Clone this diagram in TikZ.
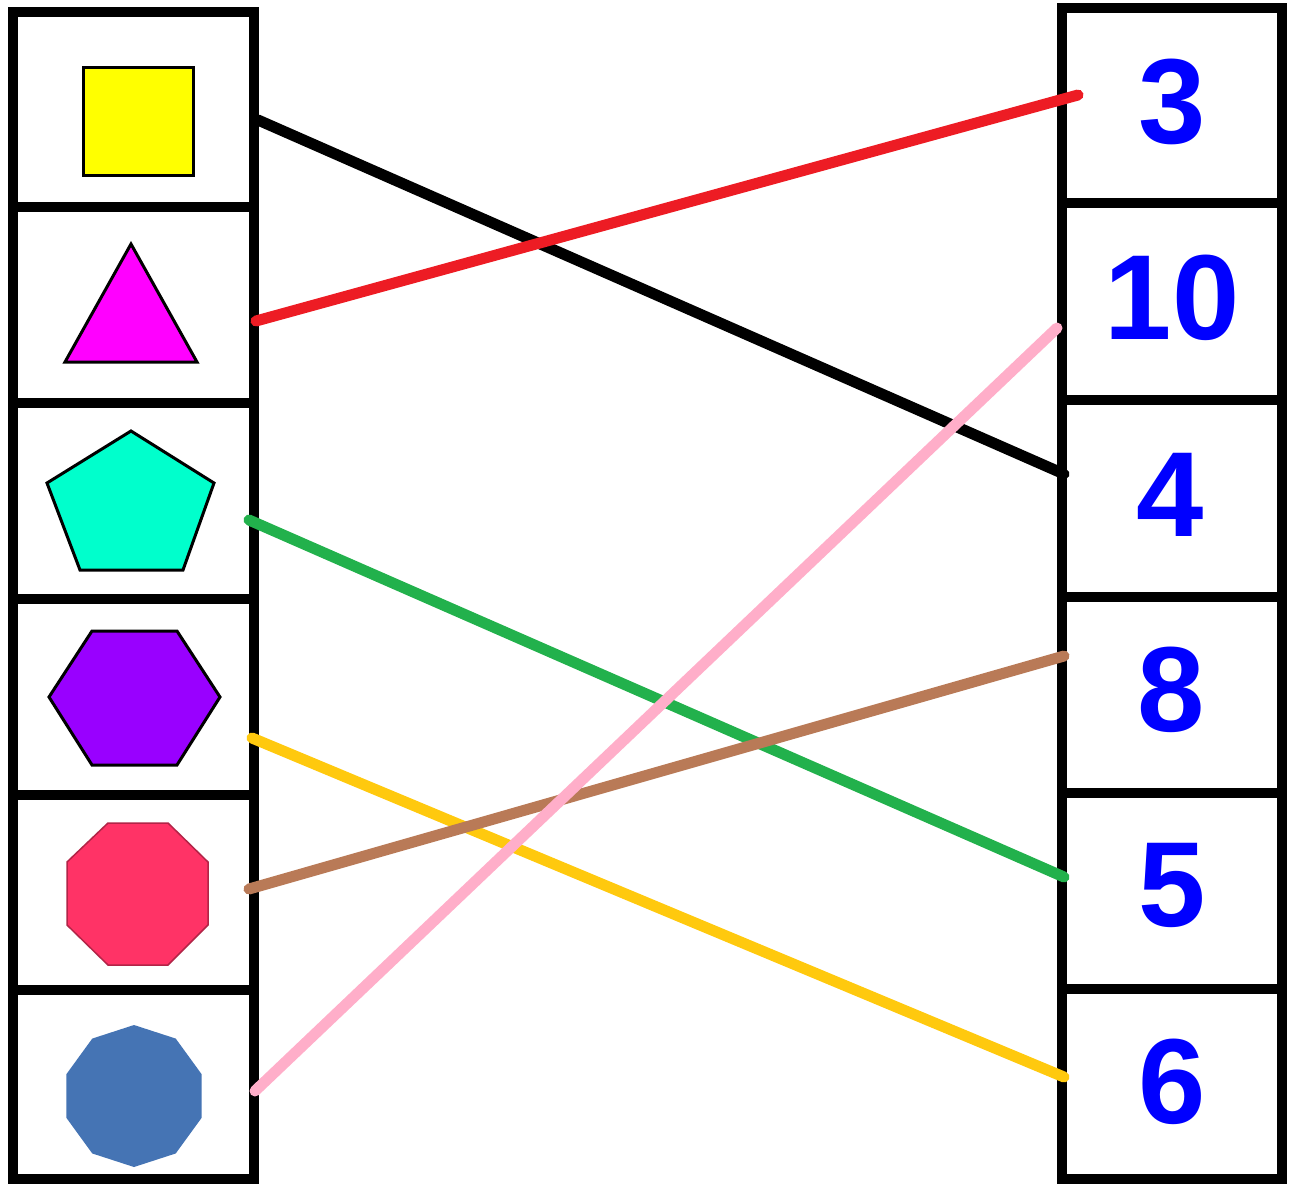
\documentclass[tikz,border=0pt]{standalone}
\usepackage{fontspec}
\setmainfont{Liberation Sans}
\definecolor{numblue}{HTML}{0000FF}
\definecolor{sqyellow}{HTML}{FFFF00}
\definecolor{trimag}{HTML}{FF00FF}
\definecolor{pentcyan}{HTML}{00FFCC}
\definecolor{hexpurple}{HTML}{9900FF}
\definecolor{octred}{HTML}{FF3366}
\definecolor{decblue}{HTML}{4574B4}
\definecolor{lnred}{HTML}{ED1C24}
\definecolor{lngreen}{HTML}{22B14C}
\definecolor{lnpink}{HTML}{FFAEC9}
\definecolor{lnbrown}{HTML}{B97A57}
\definecolor{lnyellow}{HTML}{FFC90E}
\begin{document}
\begin{tikzpicture}[x=1pt,y=-1pt,
  cell/.style={draw=black,line width=10pt,fill=white,inner sep=0pt,outer sep=0pt},
  lcell/.style={cell,minimum width=241pt},
  rcell/.style={cell,minimum width=220pt},
  num/.style={text=numblue,font=\fontsize{121}{121}\selectfont\bfseries,inner sep=0pt},
  shp/.style={draw=black,line width=3pt,line join=miter},
  link/.style={line width=11pt,line cap=round}]
\useasboundingbox (0,0) rectangle (1289,1183);
% left column boxes
\node[lcell,minimum height=195pt] (L1) at (133.5,109.5) {};
\node[lcell,minimum height=196pt] (L2) at (133.5,305) {};
\node[lcell,minimum height=196pt] (L3) at (133.5,501) {};
\node[lcell,minimum height=196pt] (L4) at (133.5,697) {};
\node[lcell,minimum height=195pt] (L5) at (133.5,892.5) {};
\node[lcell,minimum height=189pt] (L6) at (133.5,1084.5) {};
% right column boxes
\node[rcell,minimum height=195.5pt] (R1) at (1172,105.25) {};
\node[rcell,minimum height=197pt] (R2) at (1172,301.5) {};
\node[rcell,minimum height=197pt] (R3) at (1172,498.5) {};
\node[rcell,minimum height=196pt] (R4) at (1172,695) {};
\node[rcell,minimum height=196pt] (R5) at (1172,891) {};
\node[rcell,minimum height=190pt] (R6) at (1172,1084) {};
% numbers
\node[num] (N1) at (1172,102) {3};
\node[num] (N2) at (1172,298) {10};
\node[num] (N3) at (1170,495) {4};
\node[num] (N4) at (1171,690) {8};
\node[num] (N5) at (1172,885) {5};
\node[num] (N6) at (1172,1082) {6};
% shapes
\draw[shp,fill=sqyellow] (83,67) rectangle (193,175);
\draw[shp,fill=trimag] (131,244) -- (197,362) -- (65,362) -- cycle;
\draw[shp,fill=pentcyan] (131,431) -- (214,483) -- (183,570) -- (80,570) -- (47,483) -- cycle;
\draw[shp,fill=hexpurple] (92,631) -- (177,631) -- (220,697) -- (177,765) -- (92,765) -- (49,697) -- cycle;
\draw[draw=octred!70!black,line width=1.5pt,fill=octred] (108,823) -- (168,823) -- (208,862) -- (208,925) -- (168,965) -- (108,965) -- (67,925) -- (67,862) -- cycle;
\fill[decblue] (134,1096) +(90:71) -- +(126:71) -- +(162:71) -- +(198:71) -- +(234:71) -- +(270:71) -- +(306:71) -- +(342:71) -- +(18:71) -- +(54:71) -- cycle;
% connector end points
\coordinate (a1) at (258,120);
\coordinate (b1) at (1064,474);
\coordinate (a2) at (256,321);
\coordinate (b2) at (1078,95);
\coordinate (a3) at (249,520);
\coordinate (b3) at (1064,877);
\coordinate (a4) at (252,738);
\coordinate (b4) at (1064,1077);
\coordinate (a5) at (249,889);
\coordinate (b5) at (1064,656);
\coordinate (a6) at (255,1091);
\coordinate (b6) at (1057,328);
% connectors
\draw[link,draw=black] (a1) -- (b1);
\draw[link,draw=lnred] (a2) -- (b2);
\draw[link,draw=lngreen] (a3) -- (b3);
\draw[link,draw=lnyellow] (a4) -- (b4);
\draw[link,draw=lnbrown] (a5) -- (b5);
\draw[link,draw=lnpink] (a6) -- (b6);
\end{tikzpicture}
\end{document}
